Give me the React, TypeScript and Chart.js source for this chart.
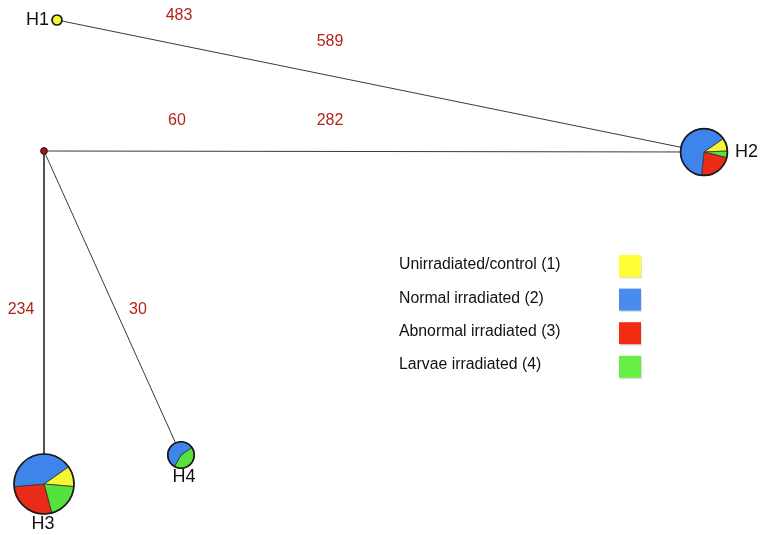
import { useEffect, useRef } from 'react';
import { Chart, registerables } from 'chart.js';

Chart.register(...registerables);

// Haplotype network nodes (layout coordinates, data units)
const nodeNames = ['H1', 'H2', 'H3', 'H4', ''];
const nodeX = [57, 704, 44, 181, 44];
const nodeY = [20, 152, 484, 455, 151];

// Sample counts per group for each haplotype (H1..H4)
const groupLabels = ['Unirradiated/control (1)', 'Normal irradiated (2)', 'Abnormal irradiated (3)', 'Larvae irradiated (4)'];
const yellowCounts = [1, 2, 4, 0];
const blueCounts = [0, 14, 15, 4];
const redCounts = [0, 5, 10, 0];
const greenCounts = [0, 1, 7, 3];

// Edges (node index pairs); node 4 = median vector
const edgeFrom = [0, 4, 4, 4];
const edgeTo = [1, 1, 2, 3];

// Mutation-step labels along edges
const stepLabels = ['483', '589', '60', '282', '234', '30'];
const stepX = [179, 330, 177, 330, 21, 138];
const stepY = [16, 42, 121, 121, 310, 310];

const FONT = "'Liberation Sans', Arial, Helvetica, sans-serif";
const groupColors = ['#f6f631', '#3f84ea', '#ea2b17', '#55e33b'];
const swatchColors = ['#ffff33', '#4a8bee', '#f22c12', '#66ee44'];

export default function App() {
  const ref = useRef<HTMLCanvasElement | null>(null);

  useEffect(() => {
    document.body.style.margin = '0';
    document.body.style.overflow = 'hidden';
    const canvas = ref.current;
    if (!canvas) return;

    const edgeDatasets = edgeFrom.map((f, i) => ({
      type: 'scatter' as const,
      data: [
        { x: nodeX[f], y: nodeY[f] },
        { x: nodeX[edgeTo[i]], y: nodeY[edgeTo[i]] },
      ],
      showLine: true,
      pointRadius: 0,
      borderColor: '#3a3a3a',
      borderWidth: 1,
    }));

    const networkPlugin = {
      id: 'network',
      afterDatasetsDraw(chart: any) {
        const ctx = chart.ctx as CanvasRenderingContext2D;
        const xs = chart.scales.x;
        const ys = chart.scales.y;
        ctx.save();

        // median vector
        const mx = xs.getPixelForValue(nodeX[4]);
        const my = ys.getPixelForValue(nodeY[4]);
        ctx.beginPath();
        ctx.arc(mx, my, 3.4, 0, Math.PI * 2);
        ctx.fillStyle = '#8e1d1d';
        ctx.fill();
        ctx.lineWidth = 1;
        ctx.strokeStyle = '#4a0a0a';
        ctx.stroke();

        // pies
        for (let n = 0; n < 4; n++) {
          const counts = [yellowCounts[n], greenCounts[n], redCounts[n], blueCounts[n]];
          const cols = [groupColors[0], groupColors[3], groupColors[2], groupColors[1]];
          const total = counts.reduce((a, b) => a + b, 0);
          const r = 5 * Math.sqrt(total);
          const cx = xs.getPixelForValue(nodeX[n]);
          const cy = ys.getPixelForValue(nodeY[n]);
          let a = (-35 * Math.PI) / 180;
          const nonzero = counts.filter((c) => c > 0).length;
          for (let k = 0; k < counts.length; k++) {
            if (!counts[k]) continue;
            const a2 = a + (counts[k] / total) * Math.PI * 2;
            ctx.beginPath();
            if (nonzero > 1) ctx.moveTo(cx, cy);
            ctx.arc(cx, cy, r, a, a2);
            ctx.closePath();
            ctx.fillStyle = cols[k];
            ctx.fill();
            if (nonzero > 1) {
              ctx.lineWidth = 0.8;
              ctx.strokeStyle = '#333';
              ctx.stroke();
            }
            a = a2;
          }
          ctx.beginPath();
          ctx.arc(cx, cy, r, 0, Math.PI * 2);
          ctx.lineWidth = 1.7;
          ctx.strokeStyle = '#1a1a1a';
          ctx.stroke();
        }

        // node labels
        ctx.fillStyle = '#111';
        ctx.font = `18px ${FONT}`;
        ctx.textBaseline = 'middle';
        const place = [
          { dx: -8, dy: 0, align: 'right' },
          { dx: 31, dy: 0, align: 'left' },
          { dx: -1, dy: 40, align: 'center' },
          { dx: 3, dy: 22, align: 'center' },
        ];
        for (let n = 0; n < 4; n++) {
          const cx = xs.getPixelForValue(nodeX[n]);
          const cy = ys.getPixelForValue(nodeY[n]);
          ctx.textAlign = place[n].align as CanvasTextAlign;
          ctx.fillText(nodeNames[n], cx + place[n].dx, cy + place[n].dy);
        }

        // step labels
        ctx.fillStyle = '#b3241c';
        ctx.font = `16px ${FONT}`;
        ctx.textAlign = 'center';
        for (let i = 0; i < stepLabels.length; i++) {
          ctx.fillText(stepLabels[i], xs.getPixelForValue(stepX[i]), ys.getPixelForValue(stepY[i]));
        }

        // legend
        ctx.font = `15.8px ${FONT}`;
        ctx.textAlign = 'left';
        for (let i = 0; i < groupLabels.length; i++) {
          const ty = 265 + i * 33.2;
          ctx.fillStyle = '#111';
          ctx.fillText(groupLabels[i], 399, ty);
          const sy = 255 + i * 33.6;
          ctx.fillStyle = 'rgba(0,0,0,0.12)';
          ctx.fillRect(620, sy + 1.5, 22, 22);
          ctx.fillStyle = swatchColors[i];
          ctx.fillRect(619, sy, 22, 22);
        }
        ctx.restore();
      },
    };

    const chart = new Chart(canvas, {
      type: 'scatter',
      data: { datasets: edgeDatasets as any },
      options: {
        animation: false,
        responsive: false,
        maintainAspectRatio: false,
        layout: { padding: 0 },
        scales: {
          x: { type: 'linear', min: 0, max: 761, display: false },
          y: { type: 'linear', min: 0, max: 535, reverse: true, display: false },
        },
        plugins: { legend: { display: false }, tooltip: { enabled: false } },
      },
      plugins: [networkPlugin],
    });
    return () => chart.destroy();
  }, []);

  return (
    <div style={{ width: 761, height: 535, background: '#fff' }}>
      <canvas ref={ref} width={761} height={535} style={{ display: 'block' }} />
    </div>
  );
}
